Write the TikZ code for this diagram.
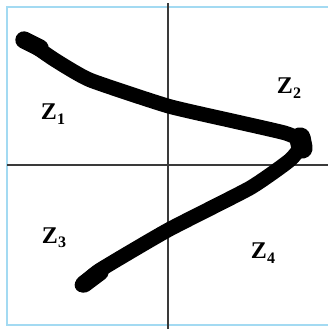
\documentclass[tikz,border=0pt]{standalone}
\usepackage{fontspec}
\setmainfont{Liberation Serif}
\usepackage{tikz}
\usetikzlibrary{positioning}
\usepackage{xcolor}
\definecolor{FrameSky}{HTML}{A3DAF2}
\definecolor{AxisGray}{HTML}{3A3A3A}
\definecolor{StrokeInk}{HTML}{000000}
\newcommand{\ZoneFont}{\bfseries\fontsize{18pt}{18pt}\selectfont}
\newcommand{\zone}[1]{Z\raisebox{-0.4ex}{\fontsize{12pt}{12pt}\selectfont #1}}

\begin{document}
\begin{tikzpicture}[x=0.75pt, y=-0.75pt,
  zonelabel/.style={font=\ZoneFont, text=StrokeInk, inner sep=0pt}]
  \useasboundingbox (0,0) rectangle (328,329);
  % frame and axes
  \draw[FrameSky, line width=2pt] (7,7) rectangle (340,325);
  \draw[AxisGray, line width=0.8pt] (168,3) -- (168,329);
  \draw[AxisGray, line width=0.8pt] (7,165) -- (328,165);
  % hand drawn stroke
  \draw[StrokeInk, line width=11pt, line join=round, line cap=round]
    plot[smooth, tension=0.3] coordinates {
      (26,40) (55,60) (90,80) (168,106) (233,121) (285,133) (303,142)
      (290,160) (250,188) (168,230) (100,270) (82,285)};
  \draw[StrokeInk, line width=13pt, line cap=round] (24,40) -- (40,48);
  \draw[StrokeInk, line width=16pt, line cap=round] (300,138) -- (302,148);
  \draw[StrokeInk, line width=13pt, line cap=round] (84,284) -- (100,272);
  % zone labels
  \node[zonelabel] (z1) at (53,114) {\zone{1}};
  \node[zonelabel] (z2) at (289,88) {\zone{2}};
  \node[zonelabel] (z3) at (54,238) {\zone{3}};
  \node[zonelabel] (z4) at (263,253) {\zone{4}};
\end{tikzpicture}
\end{document}
